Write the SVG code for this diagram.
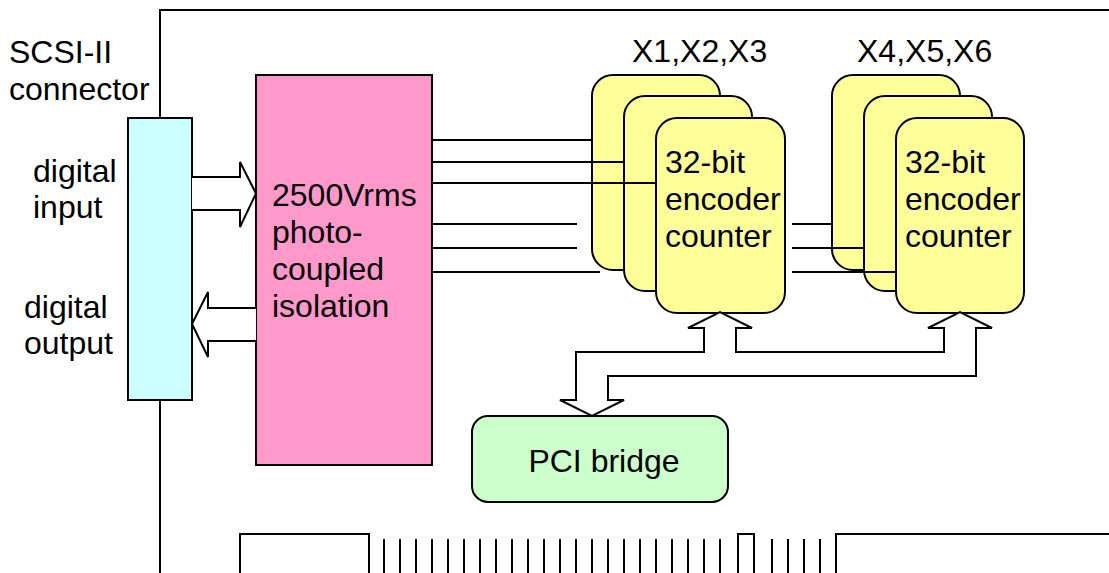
<svg xmlns="http://www.w3.org/2000/svg" width="1109" height="573" viewBox="0 0 1109 573">
<style>
.t{font-family:"Liberation Sans",Arial,sans-serif;font-size:32px;fill:#000}
.s{stroke:#000;stroke-width:2;fill:none}
.card{fill:#FFFF99;stroke:#000;stroke-width:2}
.w{fill:#fff;stroke:#000;stroke-width:2;stroke-linejoin:miter}
</style>
<rect width="1109" height="573" fill="#fff"/>
<g id="board">
<path class="s" d="M160,573 V10 H1109"/>
<path class="s" d="M240,573 V534 H369 V573"/>
<path class="s" d="M738,573 V534 H754 V573"/>
<path class="s" d="M836,573 V534 H1109"/>
<g class="s">
<line x1="384" y1="539" x2="384" y2="573"/><line x1="400" y1="539" x2="400" y2="573"/>
<line x1="416" y1="539" x2="416" y2="573"/><line x1="432" y1="539" x2="432" y2="573"/>
<line x1="448" y1="539" x2="448" y2="573"/><line x1="464" y1="539" x2="464" y2="573"/>
<line x1="480" y1="539" x2="480" y2="573"/><line x1="496" y1="539" x2="496" y2="573"/>
<line x1="512" y1="539" x2="512" y2="573"/><line x1="528" y1="539" x2="528" y2="573"/>
<line x1="544" y1="539" x2="544" y2="573"/><line x1="560" y1="539" x2="560" y2="573"/>
<line x1="576" y1="539" x2="576" y2="573"/><line x1="592" y1="539" x2="592" y2="573"/>
<line x1="608" y1="539" x2="608" y2="573"/><line x1="624" y1="539" x2="624" y2="573"/>
<line x1="640" y1="539" x2="640" y2="573"/><line x1="656" y1="539" x2="656" y2="573"/>
<line x1="672" y1="539" x2="672" y2="573"/><line x1="688" y1="539" x2="688" y2="573"/>
<line x1="704" y1="539" x2="704" y2="573"/><line x1="720" y1="539" x2="720" y2="573"/>
<line x1="772" y1="539" x2="772" y2="573"/><line x1="788" y1="539" x2="788" y2="573"/>
<line x1="804" y1="539" x2="804" y2="573"/><line x1="820" y1="539" x2="820" y2="573"/>
</g>
</g>
<g id="connector">
<rect x="128" y="118" width="64" height="282" fill="#CCFFFF" stroke="#000" stroke-width="2"/>
<text class="t" x="9" y="63">SCSI-II</text>
<text class="t" x="9" y="100">connector</text>
<text class="t" x="33" y="182">digital</text>
<text class="t" x="33" y="218">input</text>
<text class="t" x="24" y="318">digital</text>
<text class="t" x="24" y="354">output</text>
</g>
<g id="isolation">
<rect x="256" y="75" width="176" height="390" fill="#FF99CC" stroke="#000" stroke-width="2"/>
<text class="t" x="272" y="206">2500Vrms</text>
<text class="t" x="272" y="243">photo-</text>
<text class="t" x="272" y="280">coupled</text>
<text class="t" x="272" y="317">isolation</text>
</g>
<g id="counters1">
<rect class="card" x="592" y="75" width="128" height="195" rx="21"/>
<rect class="card" x="624" y="96" width="128" height="195" rx="21"/>
<rect class="card" x="656" y="118" width="129" height="195" rx="21"/>
<text class="t" x="632" y="62">X1,X2,X3</text>
<text class="t" x="665" y="173">32-bit</text>
<text class="t" x="665" y="210">encoder</text>
<text class="t" x="665" y="247">counter</text>
</g>
<g id="counters2">
<rect class="card" x="832" y="75" width="128" height="195" rx="21"/>
<rect class="card" x="864" y="96" width="128" height="195" rx="21"/>
<rect class="card" x="896" y="118" width="128" height="195" rx="21"/>
<text class="t" x="857" y="62">X4,X5,X6</text>
<text class="t" x="905" y="173">32-bit</text>
<text class="t" x="905" y="210">encoder</text>
<text class="t" x="905" y="247">counter</text>
</g>
<g id="pci">
<rect x="472" y="416" width="256" height="86" rx="16" fill="#CCFFCC" stroke="#000" stroke-width="2"/>
<text class="t" x="604" y="472" text-anchor="middle">PCI bridge</text>
</g>
<g id="connectors">
<path class="w" d="M192,177 H240 V162 L256,193.5 L240,227 V210 H192"/>
<path class="w" d="M256,308 H208 V292 L192,324 L208,357 V341 H256"/>
<g class="s">
<line x1="432" y1="140" x2="592" y2="140"/>
<line x1="432" y1="162" x2="624" y2="162"/>
<line x1="432" y1="183" x2="656" y2="183"/>
<line x1="432" y1="224" x2="577" y2="224"/>
<line x1="432" y1="248" x2="577" y2="248"/>
<line x1="432" y1="272" x2="600" y2="272"/>
<line x1="792" y1="224" x2="832" y2="224"/>
<line x1="792" y1="248" x2="864" y2="248"/>
<line x1="792" y1="272" x2="896" y2="272"/>
</g>
<path class="w" d="M704,328 H688 L720,312 L752,328 H736 V352 H944 V328 H928 L960,312 L992,328 H976 V376 H608 V400 H624 L592,416 L560,400 H576 V352 H704 Z"/>
</g>
</svg>
